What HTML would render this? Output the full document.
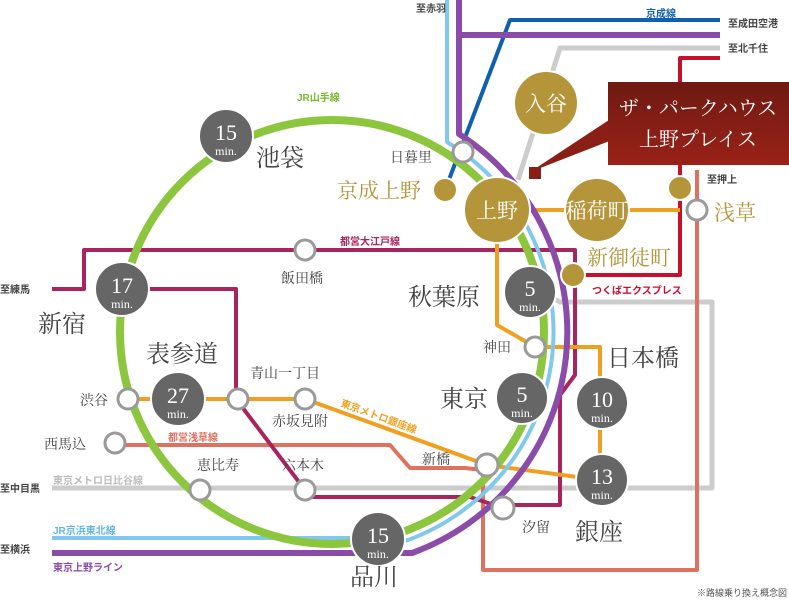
<!DOCTYPE html>
<html><head><meta charset="utf-8"><style>
body{margin:0;background:#fff}
svg{display:block}
.s{font-family:"Liberation Serif","Noto Serif CJK SC",serif;fill:#444}
.g{font-family:"Liberation Sans","Noto Sans CJK JP",sans-serif;font-weight:bold}
.m{font-family:"Liberation Serif",serif;fill:#fff;text-anchor:middle}
</style></head><body>
<svg width="789" height="600" viewBox="0 0 789 600" xmlns="http://www.w3.org/2000/svg">
<g fill="none" stroke-linejoin="round">
<path d="M720 48 H560 L518 180" stroke="#ccc" stroke-width="5"/>
<path d="M540 290 L560 302 H712 V488 H52" stroke="#ccc" stroke-width="5"/>
<path d="M720 58 H680 V275 H573" stroke="#c8102e" stroke-width="4"/>
<path d="M697 170 V570 H483 V470 L465 468 L410 468 L390 445 H115" stroke="#e07060" stroke-width="4"/>
<path d="M52 289 H84 V250 H575 V375 L560 395 V505 H503" stroke="#a8245e" stroke-width="4"/>
<path d="M122 289 H236 V399 L305 490 V497 H470 L503 508" stroke="#a8245e" stroke-width="4"/>
<path d="M128 399 H305 L487 465 L600 480 V403 V347 H535 L497 325 V210 H680" stroke="#f0a020" stroke-width="4"/>
<path d="M720 20 H510 L445 190" stroke="#1060b0" stroke-width="4"/>
<path d="M447 0 V142 A222 222 0 0 1 389 546 L350 538 H52" stroke="#80c8f0" stroke-width="4"/>
<path d="M720 35 H459 M459 0 V134 A235 235 0 0 1 412 553 H52" stroke="#8a4ca8" stroke-width="6"/>
<circle cx="332" cy="332" r="212" stroke="#8cc63f" stroke-width="8"/>
</g>
<defs><linearGradient id="cg" x1="0" y1="0" x2="0" y2="1"><stop offset="0" stop-color="#6e1a12"/><stop offset="1" stop-color="#9a2218"/></linearGradient></defs>
<polygon points="530,172 612,118 612,140" fill="#8a1f16"/>
<rect x="529" y="167" width="12" height="12" fill="#8a1f16"/>
<rect x="608" y="82" width="181" height="83" fill="url(#cg)"/>
<text x="698" y="115" font-size="20" fill="#fff" text-anchor="middle" font-family="Liberation Serif,Noto Serif CJK SC,serif">ザ・パークハウス</text>
<text x="698" y="146" font-size="20" fill="#fff" text-anchor="middle" font-family="Liberation Serif,Noto Serif CJK SC,serif">上野プレイス</text>
<g fill="#b5953a" stroke="#fff" stroke-width="2">
<circle cx="546" cy="103" r="32"/><circle cx="497" cy="210" r="33"/><circle cx="597" cy="210" r="32"/>
<circle cx="445" cy="190" r="12"/><circle cx="680" cy="188" r="12"/><circle cx="573" cy="275" r="12"/>
</g>
<g font-size="21" fill="#fff" text-anchor="middle" font-family="Liberation Serif,Noto Serif CJK SC,serif">
<text x="546" y="111">入谷</text><text x="497" y="218">上野</text><text x="597" y="218">稲荷町</text>
</g>
<g fill="#fff" stroke="#999" stroke-width="3">
<circle cx="463" cy="152" r="10"/><circle cx="305" cy="250" r="10"/><circle cx="128" cy="399" r="10"/>
<circle cx="238" cy="399" r="10"/><circle cx="305" cy="399" r="10"/><circle cx="115" cy="443" r="10"/>
<circle cx="200" cy="490" r="10"/><circle cx="305" cy="490" r="10"/><circle cx="487" cy="465" r="11"/>
<circle cx="535" cy="347" r="10"/><circle cx="503" cy="508" r="11"/><circle cx="697" cy="210" r="10"/>
</g>
<g fill="#666" stroke="#fff" stroke-width="2">
<circle cx="226" cy="136" r="27"/><circle cx="122" cy="289" r="27"/><circle cx="178" cy="399" r="27"/>
<circle cx="530" cy="292" r="26"/><circle cx="522" cy="398" r="26"/><circle cx="602" cy="403" r="26"/>
<circle cx="602" cy="480" r="26"/><circle cx="378" cy="539" r="27"/>
</g>
<g class="m">
<text x="226" y="140" font-size="22">15</text><text x="226" y="155" font-size="12">min.</text>
<text x="122" y="293" font-size="22">17</text><text x="122" y="308" font-size="12">min.</text>
<text x="178" y="403" font-size="22">27</text><text x="178" y="418" font-size="12">min.</text>
<text x="530" y="296" font-size="22">5</text><text x="530" y="311" font-size="12">min.</text>
<text x="522" y="402" font-size="22">5</text><text x="522" y="417" font-size="12">min.</text>
<text x="602" y="407" font-size="22">10</text><text x="602" y="422" font-size="12">min.</text>
<text x="602" y="484" font-size="22">13</text><text x="602" y="499" font-size="12">min.</text>
<text x="378" y="543" font-size="22">15</text><text x="378" y="558" font-size="12">min.</text>
</g>
<g class="s" font-size="24">
<text x="256" y="166">池袋</text><text x="38" y="332">新宿</text><text x="146" y="362">表参道</text>
<text x="408" y="305">秋葉原</text><text x="440" y="407">東京</text><text x="607" y="366">日本橋</text>
<text x="575" y="540">銀座</text><text x="350" y="585">品川</text>
</g>
<g font-size="21" fill="#b5953a" font-family="Liberation Serif,Noto Serif CJK SC,serif">
<text x="337" y="198">京成上野</text><text x="587" y="265">新御徒町</text><text x="714" y="220">浅草</text>
</g>
<g class="s" font-size="14">
<text x="390" y="162">日暮里</text><text x="281" y="283">飯田橋</text><text x="80" y="405">渋谷</text>
<text x="250" y="378">青山一丁目</text><text x="272" y="426">赤坂見附</text><text x="44" y="449">西馬込</text>
<text x="197" y="470">恵比寿</text><text x="282" y="470">六本木</text><text x="422" y="464">新橋</text>
<text x="483" y="352">神田</text><text x="522" y="532">汐留</text>
</g>
<g class="g" font-size="10">
<text x="297" y="101" fill="#7ab830">JR山手線</text>
<text x="340" y="245" fill="#a8245e">都営大江戸線</text>
<text x="646" y="17" fill="#1060b0">京成線</text>
<text x="592" y="294" fill="#c8102e">つくばエクスプレス</text>
<text x="168" y="441" fill="#e07060">都営浅草線</text>
<text x="340" y="406" fill="#f0a020" transform="rotate(20 340 406)">東京メトロ銀座線</text>
<text x="53" y="484" fill="#bbb">東京メトロ日比谷線</text>
<text x="53" y="534" fill="#60b8e8">JR京浜東北線</text>
<text x="53" y="571" fill="#8a4ca8">東京上野ライン</text>
</g>
<g class="g" font-size="10" fill="#444">
<text x="416" y="12">至赤羽</text><text x="728" y="27">至成田空港</text><text x="728" y="52">至北千住</text>
<text x="707" y="183">至押上</text><text x="0" y="293">至練馬</text><text x="0" y="492">至中目黒</text>
<text x="0" y="553">至横浜</text>
</g>
<text x="787" y="596" font-size="9" fill="#555" text-anchor="end" font-family="Liberation Sans,Noto Sans CJK JP,sans-serif">※路線乗り換え概念図</text>
</svg>
</body></html>
